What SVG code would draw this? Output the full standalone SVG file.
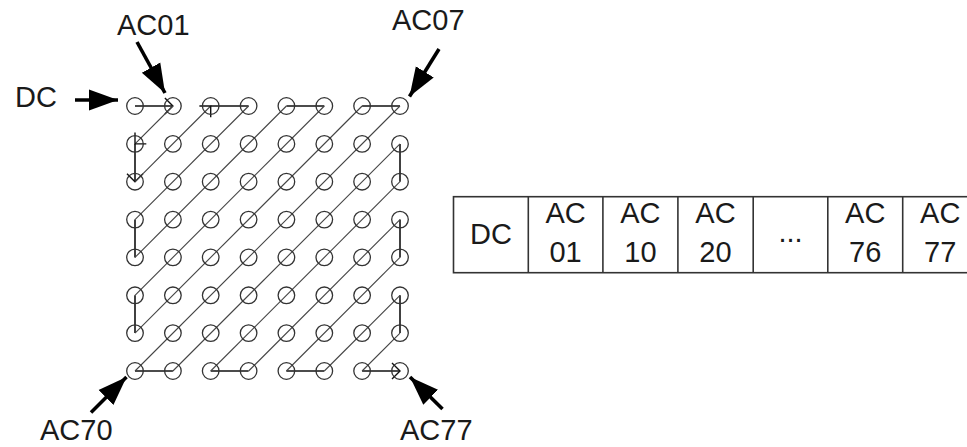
<svg xmlns="http://www.w3.org/2000/svg" width="967" height="447" viewBox="0 0 967 447">
<style>
.c{fill:none;stroke:#333;stroke-width:1.3}
.hv{stroke:#111;stroke-width:1.6;fill:none}
.dg{stroke:#444;stroke-width:1.1;fill:none}
.big{stroke:#000;stroke-width:3.6;fill:none}
.t{font-family:"Liberation Sans",Arial,sans-serif;font-size:29px;fill:#1a1a1a}
.tc{font-family:"Liberation Sans",Arial,sans-serif;font-size:29px;fill:#1a1a1a;text-anchor:middle}
.cell{fill:none;stroke:#333;stroke-width:1.6}
</style>
<defs>
<marker id="v" markerUnits="userSpaceOnUse" markerWidth="20" markerHeight="20" viewBox="-10 -10 20 20" refX="0" refY="0" orient="auto">
<path d="M-8,-8 L0,0 L-8,8" fill="none" stroke="#111" stroke-width="1.4"/>
</marker>
<marker id="h" markerUnits="userSpaceOnUse" markerWidth="32" markerHeight="24" viewBox="0 -12 32 24" refX="29" refY="0" orient="auto">
<path d="M0,-10.5 L29,0 L0,10.5 z" fill="#000"/>
</marker>
</defs>
<rect width="967" height="447" fill="#fff"/>
<g id="connectors">
<line class="hv" x1="135" y1="106" x2="172.9" y2="106" marker-end="url(#v)"/>
<line class="hv" x1="135" y1="143.9" x2="135" y2="181.7" marker-end="url(#v)"/>
<line class="hv" x1="210.7" y1="106" x2="248.6" y2="106"/>
<line class="hv" x1="135" y1="219.6" x2="135" y2="257.4"/>
<line class="hv" x1="286.4" y1="106" x2="324.3" y2="106"/>
<line class="hv" x1="135" y1="295.3" x2="135" y2="333.1"/>
<line class="hv" x1="362.1" y1="106" x2="400" y2="106"/>
<line class="hv" x1="135" y1="371" x2="172.9" y2="371"/>
<line class="hv" x1="400" y1="143.9" x2="400" y2="181.7"/>
<line class="hv" x1="210.7" y1="371" x2="248.6" y2="371"/>
<line class="hv" x1="400" y1="219.6" x2="400" y2="257.4"/>
<line class="hv" x1="286.4" y1="371" x2="324.3" y2="371"/>
<line class="hv" x1="400" y1="295.3" x2="400" y2="333.1"/>
<line class="hv" x1="362.1" y1="371" x2="400" y2="371" marker-end="url(#v)"/>
<line class="dg" x1="172.9" y1="106" x2="135" y2="143.9" marker-end="url(#v)"/>
<line class="dg" x1="135" y1="181.7" x2="210.7" y2="106" marker-end="url(#v)"/>
<line class="dg" x1="248.6" y1="106" x2="135" y2="219.6"/>
<line class="dg" x1="135" y1="257.4" x2="286.4" y2="106"/>
<line class="dg" x1="324.3" y1="106" x2="135" y2="295.3"/>
<line class="dg" x1="135" y1="333.1" x2="362.1" y2="106"/>
<line class="dg" x1="400" y1="106" x2="135" y2="371"/>
<line class="dg" x1="172.9" y1="371" x2="400" y2="143.9"/>
<line class="dg" x1="400" y1="181.7" x2="210.7" y2="371"/>
<line class="dg" x1="248.6" y1="371" x2="400" y2="219.6"/>
<line class="dg" x1="400" y1="257.4" x2="286.4" y2="371"/>
<line class="dg" x1="324.3" y1="371" x2="400" y2="295.3"/>
<line class="dg" x1="400" y1="333.1" x2="362.1" y2="371"/>
<line class="big" x1="75" y1="100" x2="118" y2="100" marker-end="url(#h)"/>
<line class="big" x1="137" y1="42" x2="165" y2="93" marker-end="url(#h)"/>
<line class="big" x1="439" y1="49" x2="409.5" y2="96.5" marker-end="url(#h)"/>
<line class="big" x1="91" y1="412.5" x2="126.5" y2="377" marker-end="url(#h)"/>
<line class="big" x1="442.5" y1="409" x2="410" y2="377" marker-end="url(#h)"/>
</g>
<g id="grid">
<g id="c00"><circle class="c" cx="135" cy="106" r="8.3"/></g>
<g id="c01"><circle class="c" cx="172.9" cy="106" r="8.3"/></g>
<g id="c02"><circle class="c" cx="210.7" cy="106" r="8.3"/></g>
<g id="c03"><circle class="c" cx="248.6" cy="106" r="8.3"/></g>
<g id="c04"><circle class="c" cx="286.4" cy="106" r="8.3"/></g>
<g id="c05"><circle class="c" cx="324.3" cy="106" r="8.3"/></g>
<g id="c06"><circle class="c" cx="362.1" cy="106" r="8.3"/></g>
<g id="c07"><circle class="c" cx="400" cy="106" r="8.3"/></g>
<g id="c10"><circle class="c" cx="135" cy="143.9" r="8.3"/></g>
<g id="c11"><circle class="c" cx="172.9" cy="143.9" r="8.3"/></g>
<g id="c12"><circle class="c" cx="210.7" cy="143.9" r="8.3"/></g>
<g id="c13"><circle class="c" cx="248.6" cy="143.9" r="8.3"/></g>
<g id="c14"><circle class="c" cx="286.4" cy="143.9" r="8.3"/></g>
<g id="c15"><circle class="c" cx="324.3" cy="143.9" r="8.3"/></g>
<g id="c16"><circle class="c" cx="362.1" cy="143.9" r="8.3"/></g>
<g id="c17"><circle class="c" cx="400" cy="143.9" r="8.3"/></g>
<g id="c20"><circle class="c" cx="135" cy="181.7" r="8.3"/></g>
<g id="c21"><circle class="c" cx="172.9" cy="181.7" r="8.3"/></g>
<g id="c22"><circle class="c" cx="210.7" cy="181.7" r="8.3"/></g>
<g id="c23"><circle class="c" cx="248.6" cy="181.7" r="8.3"/></g>
<g id="c24"><circle class="c" cx="286.4" cy="181.7" r="8.3"/></g>
<g id="c25"><circle class="c" cx="324.3" cy="181.7" r="8.3"/></g>
<g id="c26"><circle class="c" cx="362.1" cy="181.7" r="8.3"/></g>
<g id="c27"><circle class="c" cx="400" cy="181.7" r="8.3"/></g>
<g id="c30"><circle class="c" cx="135" cy="219.6" r="8.3"/></g>
<g id="c31"><circle class="c" cx="172.9" cy="219.6" r="8.3"/></g>
<g id="c32"><circle class="c" cx="210.7" cy="219.6" r="8.3"/></g>
<g id="c33"><circle class="c" cx="248.6" cy="219.6" r="8.3"/></g>
<g id="c34"><circle class="c" cx="286.4" cy="219.6" r="8.3"/></g>
<g id="c35"><circle class="c" cx="324.3" cy="219.6" r="8.3"/></g>
<g id="c36"><circle class="c" cx="362.1" cy="219.6" r="8.3"/></g>
<g id="c37"><circle class="c" cx="400" cy="219.6" r="8.3"/></g>
<g id="c40"><circle class="c" cx="135" cy="257.4" r="8.3"/></g>
<g id="c41"><circle class="c" cx="172.9" cy="257.4" r="8.3"/></g>
<g id="c42"><circle class="c" cx="210.7" cy="257.4" r="8.3"/></g>
<g id="c43"><circle class="c" cx="248.6" cy="257.4" r="8.3"/></g>
<g id="c44"><circle class="c" cx="286.4" cy="257.4" r="8.3"/></g>
<g id="c45"><circle class="c" cx="324.3" cy="257.4" r="8.3"/></g>
<g id="c46"><circle class="c" cx="362.1" cy="257.4" r="8.3"/></g>
<g id="c47"><circle class="c" cx="400" cy="257.4" r="8.3"/></g>
<g id="c50"><circle class="c" cx="135" cy="295.3" r="8.3"/></g>
<g id="c51"><circle class="c" cx="172.9" cy="295.3" r="8.3"/></g>
<g id="c52"><circle class="c" cx="210.7" cy="295.3" r="8.3"/></g>
<g id="c53"><circle class="c" cx="248.6" cy="295.3" r="8.3"/></g>
<g id="c54"><circle class="c" cx="286.4" cy="295.3" r="8.3"/></g>
<g id="c55"><circle class="c" cx="324.3" cy="295.3" r="8.3"/></g>
<g id="c56"><circle class="c" cx="362.1" cy="295.3" r="8.3"/></g>
<g id="c57"><circle class="c" cx="400" cy="295.3" r="8.3"/></g>
<g id="c60"><circle class="c" cx="135" cy="333.1" r="8.3"/></g>
<g id="c61"><circle class="c" cx="172.9" cy="333.1" r="8.3"/></g>
<g id="c62"><circle class="c" cx="210.7" cy="333.1" r="8.3"/></g>
<g id="c63"><circle class="c" cx="248.6" cy="333.1" r="8.3"/></g>
<g id="c64"><circle class="c" cx="286.4" cy="333.1" r="8.3"/></g>
<g id="c65"><circle class="c" cx="324.3" cy="333.1" r="8.3"/></g>
<g id="c66"><circle class="c" cx="362.1" cy="333.1" r="8.3"/></g>
<g id="c67"><circle class="c" cx="400" cy="333.1" r="8.3"/></g>
<g id="c70"><circle class="c" cx="135" cy="371" r="8.3"/></g>
<g id="c71"><circle class="c" cx="172.9" cy="371" r="8.3"/></g>
<g id="c72"><circle class="c" cx="210.7" cy="371" r="8.3"/></g>
<g id="c73"><circle class="c" cx="248.6" cy="371" r="8.3"/></g>
<g id="c74"><circle class="c" cx="286.4" cy="371" r="8.3"/></g>
<g id="c75"><circle class="c" cx="324.3" cy="371" r="8.3"/></g>
<g id="c76"><circle class="c" cx="362.1" cy="371" r="8.3"/></g>
<g id="c77"><circle class="c" cx="400" cy="371" r="8.3"/></g>
</g>
<g id="labels">
<text class="t" x="15" y="107">DC</text>
<text class="t" x="117" y="35">AC01</text>
<text class="t" x="392" y="30">AC07</text>
<text class="t" x="40" y="440">AC70</text>
<text class="t" x="400" y="440">AC77</text>
</g>
<g id="table">
<rect class="cell" x="453.5" y="196.7" width="560" height="76"/>
<line class="cell" x1="528.3" y1="196.7" x2="528.3" y2="272.7"/>
<line class="cell" x1="602.9" y1="196.7" x2="602.9" y2="272.7"/>
<line class="cell" x1="677.9" y1="196.7" x2="677.9" y2="272.7"/>
<line class="cell" x1="753.2" y1="196.7" x2="753.2" y2="272.7"/>
<line class="cell" x1="827.8" y1="196.7" x2="827.8" y2="272.7"/>
<line class="cell" x1="902.7" y1="196.7" x2="902.7" y2="272.7"/>
<text class="tc" x="490.9" y="243.5">DC</text>
<text class="tc" x="565.6" y="223.3">AC</text>
<text class="tc" x="565.6" y="261.7">01</text>
<text class="tc" x="640.4" y="223.3">AC</text>
<text class="tc" x="640.4" y="261.7">10</text>
<text class="tc" x="715.5" y="223.3">AC</text>
<text class="tc" x="715.5" y="261.7">20</text>
<text class="tc" x="790.5" y="241.7">...</text>
<text class="tc" x="865.2" y="223.3">AC</text>
<text class="tc" x="865.2" y="261.7">76</text>
<text class="tc" x="940.2" y="223.3">AC</text>
<text class="tc" x="940.2" y="261.7">77</text>
</g>
</svg>
